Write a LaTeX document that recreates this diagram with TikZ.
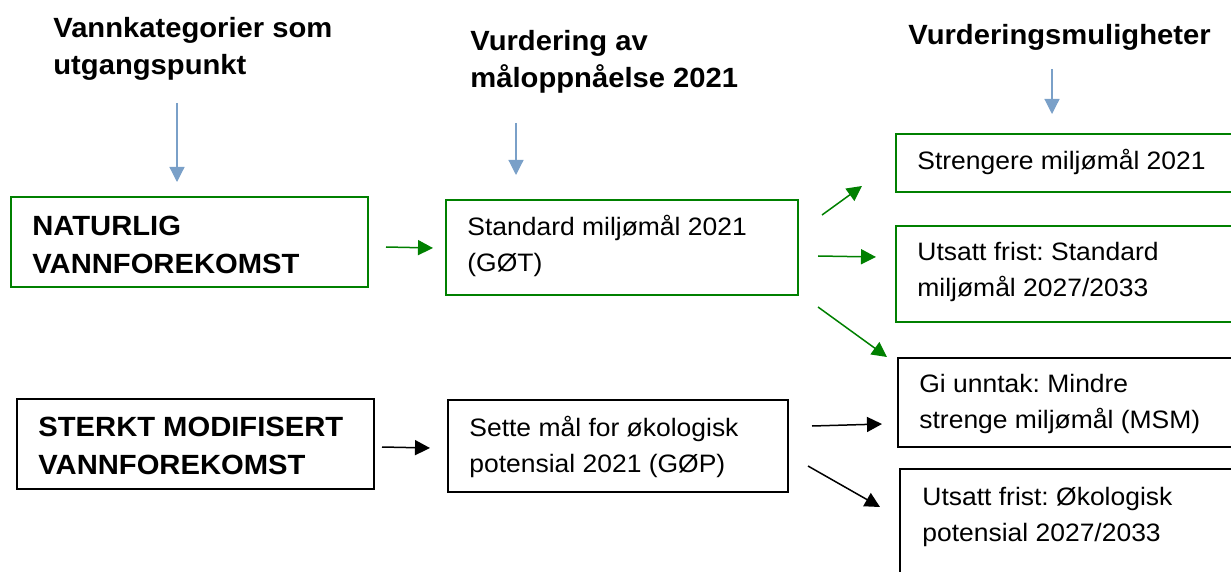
\documentclass[tikz,border=0pt]{standalone}
\usepackage{fontspec}
\setmainfont{Liberation Sans}[FakeStretch=1.05]
\frenchspacing
\usetikzlibrary{arrows.meta,fit}
\definecolor{boxgreen}{RGB}{0,128,0}
\definecolor{arrowblue}{RGB}{122,160,200}
\tikzset{
  gbox/.style={draw=boxgreen, line width=1pt, inner sep=0pt},
  kbox/.style={draw=black, line width=1pt, inner sep=0pt},
  txt/.style={anchor=base west, align=left, inner sep=0pt, font=\fontsize{12.6}{18}\selectfont},
  btxt/.style={anchor=base west, align=left, inner sep=0pt, font=\fontsize{13.9}{18.75}\selectfont\bfseries},
  blarrow/.style={draw=arrowblue, line width=0.6pt, -{Triangle[length=7.5pt,width=7.5pt]}},
  grarrow/.style={draw=boxgreen, line width=0.75pt, -{Triangle[length=7.5pt,width=7.5pt]}},
  bkarrow/.style={draw=black, line width=0.75pt, -{Triangle[length=7.5pt,width=7.5pt]}}
}
\begin{document}
\begin{tikzpicture}[x=0.5pt,y=-0.5pt]
\useasboundingbox (0,0) rectangle (1231,572);
\clip (0,0) rectangle (1231,572);
% headers (anchor = baseline of last line)
\node[btxt] (h1) at (53,75) {Vannkategorier som\\utgangspunkt};
\node[btxt] (h2) at (470,88) {Vurdering av\\måloppnåelse 2021};
\node[btxt] (h3) at (908,45) {Vurderingsmuligheter};
% boxes
\node[gbox, fit={(11,197) (368,287)}] (nat) {};
\node[gbox, fit={(446,200) (798,295)}] (std) {};
\node[gbox, fit={(896,134) (1245,192)}] (str) {};
\node[gbox, fit={(896,226) (1245,322)}] (uts) {};
\node[kbox, fit={(17,399) (374,489)}] (stk) {};
\node[kbox, fit={(448,400) (788,492)}] (set) {};
\node[kbox, fit={(898,358) (1245,447)}] (gi) {};
\node[kbox, fit={(900,469) (1245,600)}] (uto) {};
% box texts (anchor = baseline of last line)
\node[btxt] (natT) at (32,273) {NATURLIG\\VANNFOREKOMST};
\node[txt] (stdT) at (467,271) {Standard miljømål 2021\\(GØT)};
\node[txt] (strT) at (917,170) {Strengere miljømål 2021};
\node[txt] (utsT) at (917,297) {Utsatt frist: Standard\\miljømål 2027/2033};
\node[btxt] (stkT) at (38,474) {STERKT MODIFISERT\\VANNFOREKOMST};
\node[txt] (setT) at (469,472) {Sette mål for økologisk\\potensial 2021 (GØP)};
\node[txt] (giT) at (919,428) {Gi unntak: Mindre\\strenge miljømål (MSM)};
\node[txt] (utoT) at (922,541) {Utsatt frist: Økologisk\\potensial 2027/2033};
% arrow end points
\coordinate (b1s) at (177,103); \coordinate (b1e) at (177,182);
\coordinate (b2s) at (516,123); \coordinate (b2e) at (516,175);
\coordinate (b3s) at (1052,69); \coordinate (b3e) at (1052,114);
\coordinate (g1s) at (386,247); \coordinate (g1e) at (433,248);
\coordinate (g2s) at (822,215); \coordinate (g2e) at (862,186);
\coordinate (g3s) at (818,256); \coordinate (g3e) at (876,257);
\coordinate (g4s) at (818,307); \coordinate (g4e) at (887,357);
\coordinate (k1s) at (382,447); \coordinate (k1e) at (430,448);
\coordinate (k2s) at (812,426); \coordinate (k2e) at (882,424);
\coordinate (k3s) at (808,466); \coordinate (k3e) at (880,507);
% arrows
\draw[blarrow] (b1s) -- (b1e);
\draw[blarrow] (b2s) -- (b2e);
\draw[blarrow] (b3s) -- (b3e);
\draw[grarrow] (g1s) -- (g1e);
\draw[grarrow] (g2s) -- (g2e);
\draw[grarrow] (g3s) -- (g3e);
\draw[grarrow] (g4s) -- (g4e);
\draw[bkarrow] (k1s) -- (k1e);
\draw[bkarrow] (k2s) -- (k2e);
\draw[bkarrow] (k3s) -- (k3e);
\end{tikzpicture}
\end{document}
